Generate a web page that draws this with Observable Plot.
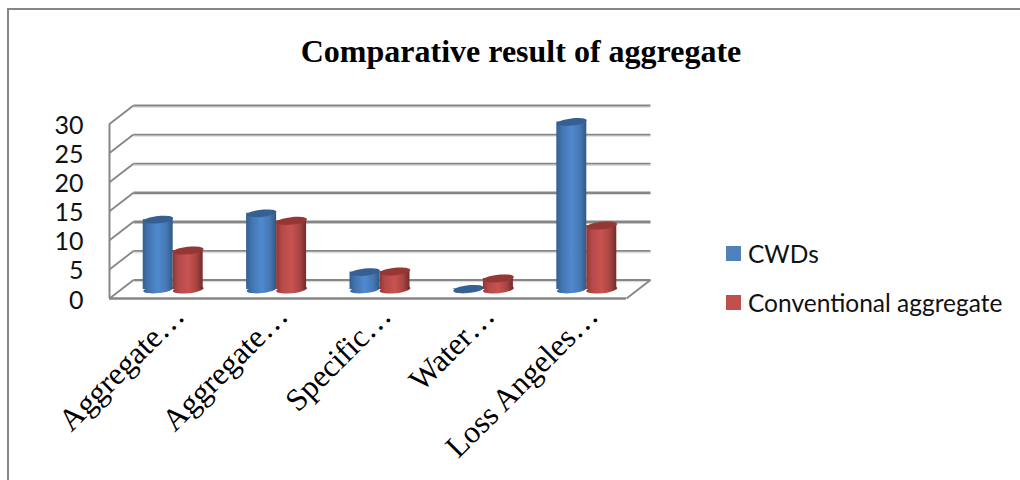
<!DOCTYPE html>
<html>
<head>
<meta charset="utf-8">
<script src="https://cdn.jsdelivr.net/npm/d3@7"></script>
<script src="https://cdn.jsdelivr.net/npm/@observablehq/plot@0.6"></script>
<style>
html,body{margin:0;padding:0;background:#fff;width:1020px;height:480px;overflow:hidden}
#frame{position:absolute;left:7px;top:8px;width:1100px;height:600px;border:2px solid #868686;box-sizing:border-box}
#title{position:absolute;left:0;top:33px;width:1042px;text-align:center;font:bold 32px "Liberation Serif",serif;color:#000}
#chart{position:absolute;left:0;top:0}
#chart svg{background:transparent}
.lg{position:absolute;left:748px;font:24.5px Lato,sans-serif;color:#111;white-space:nowrap;line-height:28px}
.sw{position:absolute;left:726px;width:15px;height:15px}
</style>
</head>
<body>
<div id="frame"></div>
<div id="chart"></div>
<div id="title">Comparative result of aggregate</div>
<div class="sw" style="top:246px;background:#4f81bd"></div>
<div class="lg" style="top:240px">CWDs</div>
<div class="sw" style="top:295px;background:#c0504d"></div>
<div class="lg" style="top:289px">Conventional aggregate</div>
<script>
const categories = ["Aggregate…", "Aggregate…", "Specific…", "Water…", "Loss Angeles…"];
const cwds = [12.0, 13.1, 3.0, 0.1, 28.8];
const conventional = [6.7, 11.8, 3.1, 1.9, 11.0];
const yTicks = [0, 5, 10, 15, 20, 25, 30];

const depthX = 0.232, depthY = 3.18;
const barW = 0.29;
const midDx = 12, midDy = -9;

const rows = (vals, offset) => vals.map((v, i) => ({
  x1: i + 0.5 + offset * barW,
  x2: i + 0.5 + (offset + 1) * barW,
  xc: i + 0.5 + (offset + 0.5) * barW,
  v
}));
const blue = rows(cwds, -1);
const red = rows(conventional, 0);

const ellipse = {
  draw(c, size) {
    const a = Math.sqrt(size / Math.PI), b = a * 0.24, k = 0.5523;
    c.moveTo(-a, 0);
    c.bezierCurveTo(-a, -k * b, -k * a, -b, 0, -b);
    c.bezierCurveTo(k * a, -b, a, -k * b, a, 0);
    c.bezierCurveTo(a, k * b, k * a, b, 0, b);
    c.bezierCurveTo(-k * a, b, -a, k * b, -a, 0);
    c.closePath();
  }
};

function gradient(id, stops) {
  const g = d3.create("svg:linearGradient").attr("id", id).attr("x1", 0).attr("x2", 1).attr("y1", 0).attr("y2", 0);
  stops.forEach(([o, col]) => g.append("stop").attr("offset", o).attr("stop-color", col));
  return g;
}
const defs = () => {
  const d = d3.create("svg:defs");
  d.append(() => gradient("gBlue", [[0, "#335f93"], [0.18, "#4374ae"], [0.5, "#5089cf"], [0.8, "#4677b2"], [1, "#2f5987"]]).node());
  d.append(() => gradient("gRed", [[0, "#8f3634"], [0.18, "#b3494a"], [0.5, "#c9534f"], [0.78, "#a94543"], [1, "#742b2a"]]).node());
  return d.node();
};

const backX0 = depthX, backX1 = 5 + depthX;

const cylinders = (data, grad, top, r) => [
  Plot.dot(data, {x: "xc", y: () => 0, r, symbol: ellipse, rotate: -6, fill: grad, dx: midDx, dy: midDy}),
  Plot.rect(data, {x1: "x1", x2: "x2", y1: () => 0, y2: "v", fill: grad, dx: midDx, dy: midDy}),
  Plot.dot(data, {x: "xc", y: "v", r, symbol: ellipse, rotate: -6, fill: top, dx: midDx, dy: midDy})
];

const plot = Plot.plot({
  width: 1020, height: 480,
  marginLeft: 109, marginRight: 394, marginTop: 123.5, marginBottom: 182,
  x: {domain: [0, 5]},
  y: {domain: [0, 30]},
  style: {background: "transparent"},
  marks: [
    defs,
    Plot.link(yTicks, {x1: () => backX0, x2: () => backX1, y1: d => d + depthY, y2: d => d + depthY, stroke: "#dcdcdc", strokeWidth: 1.5, dy: 1.5}),
    Plot.link(yTicks, {x1: () => backX0, x2: () => backX1, y1: d => d + depthY, y2: d => d + depthY, stroke: "#868686", strokeWidth: d => (d === 10 || d === 15) ? 2.6 : 1.9}),
    Plot.link(yTicks, {x1: () => 0, x2: () => backX0, y1: d => d, y2: d => d + depthY, stroke: "#868686", strokeWidth: 1.8}),
    Plot.link([0], {x1: () => 5, x2: () => backX1, y1: d => d, y2: d => d + depthY, stroke: "#868686", strokeWidth: 1.8}),
    Plot.ruleX([0], {y1: 0, y2: 30, stroke: "#868686", strokeWidth: 2}),
    Plot.ruleY([0], {x1: 0, x2: 5, stroke: "#868686", strokeWidth: 2.4}),
    ...cylinders(blue, "url(#gBlue)", "#376092", 15),
    ...cylinders(red, "url(#gRed)", "#953735", 15.5),
    Plot.axisY({ticks: yTicks, tickSize: 0, tickPadding: 26, label: null, fontSize: 25, fontFamily: "Lato, sans-serif", color: "#111", dy: 2}),
    Plot.axisX({
      ticks: categories.map((_, i) => i + 0.5),
      tickFormat: d => categories[Math.floor(d)],
      tickRotate: -45, tickSize: 0, tickPadding: 12, label: null,
      fontSize: 31.5, fontFamily: "Liberation Serif, serif", color: "#000", dx: 18
    })
  ]
});
document.getElementById("chart").appendChild(plot);
</script>
</body>
</html>
